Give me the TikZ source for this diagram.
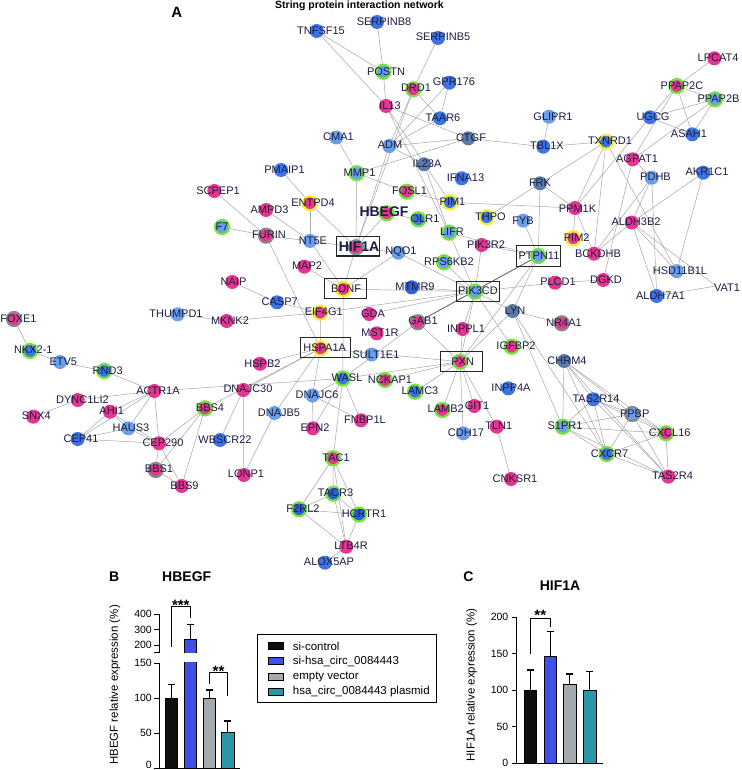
\documentclass[tikz,border=0pt]{standalone}
\usepackage{fontspec}
\setmainfont{Liberation Sans}
\definecolor{pinkc}{HTML}{E6358F}
\definecolor{bluec}{HTML}{3D73E5}
\definecolor{lblue}{HTML}{6A9EEA}
\definecolor{dblue}{HTML}{2E5FD6}
\definecolor{bgray}{HTML}{5B7BA6}
\definecolor{ringg}{HTML}{74E33A}
\definecolor{ringy}{HTML}{F3EE2C}
\definecolor{ringgr}{HTML}{888888}
\definecolor{txc}{HTML}{1C1E40}
\definecolor{edgec}{HTML}{A6A6A6}
\definecolor{barblack}{HTML}{0F0F0F}
\definecolor{barblue}{HTML}{3F50E6}
\definecolor{bargray}{HTML}{A3AAAD}
\definecolor{barteal}{HTML}{2A97A8}
\begin{document}
\def\nodelist{%
TNFSF15/316.7/31/bluec/none/321/31/TNFSF15,
SERPINB8/377/22/bluec/none/384/22/SERPINB8,
SERPINB5/438/38/bluec/none/443/37/SERPINB5,
POSTN/383.3/71.7/lblue/ringg/386/71.7/POSTN,
DRD1/413.3/89.3/pinkc/ringg/416/88/DRD1,
GPR176/449.3/82.7/bluec/none/454/82/GPR176,
IL13/386/106/pinkc/none/390/106/IL13,
TAAR6/440/118.3/bluec/none/443/118/TAAR6,
GLIPR1/549/116.7/lblue/none/553/117/GLIPR1,
CTGF/468.3/138.3/bgray/none/471/138/CTGF,
TBL1X/543.3/146.7/bluec/none/547/146/TBL1X,
TXNRD1/606/141.7/bluec/ringy/610/141/TXNRD1,
ADM/389.3/146/lblue/none/390/145/ADM,
CMA1/336.3/137.5/lblue/none/338.5/137/CMA1,
IL23A/424/164.3/bgray/none/427/164/IL23A,
AGPAT1/632.7/159.3/pinkc/none/637/159/AGPAT1,
PPAP2C/676.7/86/pinkc/ringg/682/86/PPAP2C,
LPCAT4/714.3/58.3/pinkc/none/718/58/LPCAT4,
PPAP2B/715/99.3/lblue/ringg/718.5/99/PPAP2B,
UGCG/650/117.3/bluec/none/653/117/UGCG,
ASAH1/692.3/134.3/bluec/none/689/134/ASAH1,
PDHB/651.7/177.7/lblue/none/655.5/177/PDHB,
AKR1C1/703.3/172.7/bluec/none/707/172/AKR1C1,
FRK/540/183.3/bgray/none/540/183/FRK,
IFNA13/461.7/178.3/bluec/none/465.5/178/IFNA13,
FOSL1/406.7/191.7/pinkc/ringg/409.5/191/FOSL1,
PIM1/450/202.3/bluec/ringy/452.5/202/PIM1,
MMP1/356.7/173.3/lblue/ringg/359.5/173/MMP1,
PMAIP1/281/170/bluec/none/284.5/170/PMAIP1,
SCPEP1/214.3/191/pinkc/none/218/191/SCPEP1,
ENTPD4/310/203.3/pinkc/ringy/313/203/ENTPD4,
AMPD3/266/210/pinkc/none/269.5/210/AMPD3,
F7/222/227/lblue/ringg/222/227/F7,
FURIN/266/235.7/pinkc/ringgr/269/235/FURIN,
NT5E/310/241/lblue/none/313/241/NT5E,
OLR1/418.3/219.3/bluec/ringg/425/219/OLR1,
THPO/486.7/217.3/bluec/ringy/490.5/217/THPO,
FYB/523.3/220.7/lblue/none/523/221/FYB,
PPM1K/575/208/pinkc/none/577.5/209/PPM1K,
ALDH3B2/631.7/222.5/pinkc/none/636/222/ALDH3B2,
LIFR/449/232.7/lblue/ringg/452/232/LIFR,
PIM2/573.3/238.3/pinkc/ringy/576.7/238/PIM2,
PIK3R2/481.7/245/pinkc/none/486/245/PIK3R2,
NQO1/398.3/252.7/lblue/none/401/252/NQO1,
MAP2/304.3/266.7/pinkc/none/307/266/MAP2,
RPS6KB2/444/262.3/lblue/ringg/449/262/RPS6KB2,
PTPN11/538.3/256/lblue/ringg/539/256/PTPN11,
BCKDHB/594/253.7/pinkc/none/598/254/BCKDHB,
HSD11B1L/676.7/271.2/lblue/none/680/271/HSD11B1L,
ALDH7A1/656.7/296/bluec/none/660.5/296/ALDH7A1,
DGKD/603.3/280/pinkc/none/606/280/DGKD,
PLCD1/555/282.7/pinkc/none/558/282/PLCD1,
MTMR9/411.7/287.3/dblue/none/415/287/MTMR9,
PIK3CD/475/291.7/lblue/ringg/478/291/PIK3CD,
BDNF/343.3/289/pinkc/ringy/346/289/BDNF,
NAIP/232.3/282/pinkc/none/233.5/282/NAIP,
CASP7/277/302.3/bluec/none/279.7/302/CASP7,
THUMPD1/177.7/314.3/lblue/none/176/314/THUMPD1,
MKNK2/226.7/321/pinkc/none/230/321/MKNK2,
EIF4G1/320.3/312.7/pinkc/ringy/323.8/312/EIF4G1,
GDA/369.2/314/pinkc/none/373/314/GDA,
LYN/512.7/311/bgray/none/515/311/LYN,
NR4A1/561.7/323.3/pinkc/ringgr/564/323/NR4A1,
GAB1/417.7/322.2/pinkc/ringgr/423/321/GAB1,
MST1R/376.7/333.3/pinkc/none/380/333/MST1R,
INPPL1/462.7/329/pinkc/none/466/329/INPPL1,
FOXE1/14/319/pinkc/ringgr/18.5/319/FOXE1,
NKX21/30/351/bluec/ringg/33.3/350/NKX2-1,
ETV5/60/362/lblue/none/63.3/362/ETV5,
HSPA1A/320.5/348.3/pinkc/ringy/324.7/348/HSPA1A,
SULT1E1/371.7/354.5/lblue/none/376/355/SULT1E1,
PXN/460/361.7/pinkc/ringg/462.7/362/PXN,
IGFBP2/511.7/346.7/pinkc/ringg/516/346/IGFBP2,
CHRM4/564/361/bgray/none/567/361/CHRM4,
HSPB2/260/363.8/pinkc/none/262.5/364/HSPB2,
RND3/104.3/371/bluec/ringg/107.7/371/RND3,
WASL/342.8/378.5/bluec/ringg/347/378/WASL,
NCKAP1/385/380/pinkc/ringg/390/380/NCKAP1,
INPP4A/508.3/388.3/bluec/none/511/388/INPP4A,
ACTR1A/154.3/391/pinkc/none/158/391/ACTR1A,
DNAJC30/243.3/390/pinkc/none/248/389/DNAJC30,
DNAJC6/312.5/395.5/lblue/none/317/395/DNAJC6,
LAMC3/415/391.7/bluec/ringg/420/391/LAMC3,
DYNC1LI2/77.7/400/pinkc/none/82.5/400/DYNC1LI2,
AHI1/110/411.7/pinkc/none/111.7/411/AHI1,
BBS4/205/408.3/pinkc/ringg/210/408/BBS4,
DNAJB5/274.7/413/lblue/none/279/413/DNAJB5,
LAMB2/442.3/410/pinkc/ringg/445.7/409/LAMB2,
GIT1/474.3/406/pinkc/none/477/406/GIT1,
TAS2R14/593.3/399.3/bluec/none/596/399/TAS2R14,
PPBP/632.3/414/lblue/ringgr/634.7/414/PPBP,
SNX4/33.3/416.7/pinkc/none/36.3/416/SNX4,
HAUS3/128.3/428.3/lblue/none/131/428/HAUS3,
CEP41/77.7/439/bluec/none/81/439/CEP41,
CEP290/159/443.3/pinkc/none/163/443/CEP290,
WBSCR22/220/440/bluec/none/225/440/WBSCR22,
EPN2/313/428.3/pinkc/none/315/428/EPN2,
FNBP1L/361/420.3/pinkc/none/365/420/FNBP1L,
CDH17/463.3/433.3/lblue/none/466/433/CDH17,
TLN1/496.7/426.7/pinkc/none/498.7/426/TLN1,
S1PR1/562.7/426.7/lblue/ringg/565/426/S1PR1,
CXCL16/666/433.3/pinkc/ringg/669.7/433/CXCL16,
CXCR7/606.7/454/bluec/ringg/609.5/454/CXCR7,
BBS1/155.7/470/pinkc/ringgr/159/469/BBS1,
BBS9/181.7/486/pinkc/none/184.5/486/BBS9,
LONP1/243.8/475/pinkc/none/246/474/LONP1,
TAC1/333/458.3/pinkc/ringg/336/458/TAC1,
CNKSR1/511/479/pinkc/none/515/479/CNKSR1,
TAS2R4/668.3/476.7/pinkc/none/672.5/476/TAS2R4,
TACR3/333.3/493.7/dblue/ringg/335.5/493/TACR3,
F2RL2/299/509.3/dblue/ringg/303/509/F2RL2,
HCRTR1/359/514.5/dblue/ringg/364/514/HCRTR1,
LTB4R/346.2/546.7/pinkc/none/351/546/LTB4R,
ALOX5AP/325/562.7/bluec/none/329/562/ALOX5AP,
HBEGF/386.7/213.3/pinkc/ringg/384/212/{},
HIF1A/356/247.3/pinkc/ringgr/359/247/{}%
}
\begin{tikzpicture}[x=1pt,y=-1pt,
  edge/.style={draw=edgec, line width=0.5pt},
  thk/.style={draw=black!60, line width=0.9pt},
  dot/.style={circle, inner sep=0pt, minimum size=14pt, line width=2.2pt},
  lbl/.style={inner sep=0pt, text=txc, font=\fontsize{11}{12}\selectfont},
  blbl/.style={inner sep=0pt, text=txc, font=\bfseries\fontsize{14}{15}\selectfont},
  gbox/.style={draw=black!85, line width=0.9pt},
  tick/.style={inner sep=0pt, anchor=east, font=\fontsize{10.5}{11}\selectfont},
  axl/.style={line width=1pt, draw=black},
  bar/.style={draw=black, line width=0.9pt},
  errb/.style={draw=black, line width=1.1pt},
  ptitle/.style={inner sep=0pt, font=\bfseries\fontsize{14}{15}\selectfont},
  leg/.style={inner sep=0pt, anchor=west, font=\fontsize{11.5}{12}\selectfont},
  sw/.style={draw=black, line width=0.8pt},
  star/.style={inner sep=0pt, anchor=base, font=\bfseries\fontsize{15}{16}\selectfont}
 ]
\useasboundingbox[fill=white] (0,0) rectangle (741,770);
% ---- node positions
\foreach \n/\x/\y/\f/\r/\lx/\ly/\t in \nodelist {\coordinate (\n) at (\x,\y);}
\coordinate (VAT1) at (716,286);
% ---- edges
\foreach \a/\b in {TNFSF15/IL13, TNFSF15/POSTN, SERPINB8/POSTN, SERPINB5/DRD1, POSTN/IL13,
  IL13/CTGF, IL13/LIFR, IL13/PIM1, DRD1/TAAR6, DRD1/ADM, DRD1/HIF1A, GPR176/TAAR6, GPR176/ADM,
  TAAR6/ADM, ADM/CTGF, ADM/HIF1A, CTGF/TBL1X, TBL1X/GLIPR1, TBL1X/TXNRD1, MMP1/CTGF,
  CMA1/MMP1, MMP1/FOSL1, MMP1/HIF1A, FOSL1/PIM1, IL23A/ADM, IL23A/LIFR, PIM1/PPM1K,
  THPO/TXNRD1, FRK/PPM1K, FRK/PTPN11,
  PMAIP1/ENTPD4, SCPEP1/FURIN, AMPD3/NT5E, ENTPD4/NT5E, ENTPD4/HIF1A, F7/FURIN, FURIN/NT5E,
  NT5E/HIF1A, FURIN/HSPA1A, HBEGF/HIF1A, NT5E/BDNF, MAP2/BDNF, HIF1A/BDNF, HIF1A/NQO1,
  NQO1/BDNF, BDNF/PIK3CD, NQO1/PIK3CD, NAIP/CASP7, CASP7/EIF4G1, MKNK2/EIF4G1,
  THUMPD1/MKNK2, EIF4G1/HSPA1A, EIF4G1/PIK3CD, BDNF/WASL,
  HSPA1A/HSPB2, HSPA1A/DNAJC30, HSPA1A/DNAJB5, HSPA1A/DNAJC6, HSPA1A/BBS4, HSPA1A/PXN,
  ACTR1A/WASL, WASL/PXN, NCKAP1/PXN, WASL/DNAJC6, WASL/FNBP1L, WASL/EPN2, DNAJC6/EPN2,
  DNAJC6/FNBP1L, WASL/TAC1, GAB1/WASL, GAB1/PXN,
  PIK3CD/PIK3R2, PIK3CD/RPS6KB2, PIK3CD/LIFR, PIK3CD/MTMR9, PIK3CD/PXN, PIK3CD/INPPL1,
  PIK3CD/IGFBP2, PIK3CD/LYN, PIK3CD/PLCD1, PIK3CD/GDA,
  PTPN11/FYB, PTPN11/PIK3R2, PTPN11/LYN, PTPN11/PXN, LIFR/PTPN11, OLR1/HBEGF,
  LYN/PXN, LYN/NR4A1, LYN/S1PR1, LYN/CXCR7,
  PXN/LAMB2, PXN/LAMC3, PXN/CDH17, PXN/GIT1, PXN/TLN1, PXN/INPPL1, TLN1/CNKSR1,
  CHRM4/S1PR1, CHRM4/TAS2R14, CHRM4/PPBP, CHRM4/CXCL16, CHRM4/CXCR7, CHRM4/TAS2R4,
  S1PR1/TAS2R14, S1PR1/PPBP, S1PR1/CXCL16, S1PR1/CXCR7, S1PR1/TAS2R4,
  TAS2R14/PPBP, TAS2R14/CXCL16, TAS2R14/CXCR7, TAS2R14/TAS2R4,
  PPBP/CXCL16, PPBP/CXCR7, PPBP/TAS2R4, CXCL16/CXCR7, CXCL16/TAS2R4, CXCR7/TAS2R4,
  TAC1/TACR3, TAC1/F2RL2, TAC1/HCRTR1, TAC1/LTB4R, TACR3/F2RL2, TACR3/HCRTR1, TACR3/LTB4R,
  F2RL2/HCRTR1, F2RL2/LTB4R, HCRTR1/LTB4R, LTB4R/ALOX5AP,
  FOXE1/NKX21, NKX21/ETV5, ETV5/RND3, RND3/ACTR1A, ACTR1A/DYNC1LI2, ACTR1A/AHI1,
  ACTR1A/HAUS3, ACTR1A/CEP41, ACTR1A/CEP290, DYNC1LI2/SNX4, AHI1/CEP41, AHI1/HAUS3,
  AHI1/CEP290, HAUS3/CEP41, HAUS3/CEP290, CEP41/CEP290, CEP290/BBS4, CEP290/BBS1,
  CEP290/BBS9, BBS4/BBS1, BBS4/BBS9, BBS1/BBS9, DNAJC30/WBSCR22, DNAJC30/LONP1, DNAJB5/LONP1,
  LPCAT4/PPAP2C, PPAP2C/PPAP2B, PPAP2C/UGCG, PPAP2C/ASAH1, PPAP2C/AGPAT1, PPAP2B/UGCG,
  PPAP2B/ASAH1, PPAP2B/AGPAT1, UGCG/ASAH1, UGCG/PPM1K, TXNRD1/PPM1K, TXNRD1/BCKDHB,
  TXNRD1/HSD11B1L, AGPAT1/PDHB, AGPAT1/DGKD, PPM1K/PIM2, PPM1K/BCKDHB, ALDH3B2/BCKDHB,
  ALDH3B2/PDHB, ALDH3B2/AKR1C1, ALDH3B2/HSD11B1L, ALDH3B2/ALDH7A1, ALDH3B2/VAT1,
  PDHB/BCKDHB, PDHB/ALDH7A1, AKR1C1/HSD11B1L, ALDH7A1/VAT1, DGKD/PLCD1}
  {\draw[edge] (\a) -- (\b);}
\draw[thk] (PTPN11) -- (GAB1);
% ---- circles
\foreach \n/\x/\y/\f/\r/\lx/\ly/\t in \nodelist {\node[dot, fill=\f, draw=\r] (\n-c) at (\n) {};}
% ---- boxes
\draw[gbox] (516.7,245.7) rectangle (560.7,266);
\draw[gbox] (456,281.7) rectangle (499,301);
\draw[gbox] (324,278.3) rectangle (366.7,298.3);
\draw[gbox] (300,337.7) rectangle (350,357.3);
\draw[gbox] (440,351.7) rectangle (482.7,371.7);
\draw[gbox, line width=1.2pt] (336.7,236.7) rectangle (379.3,256);
% ---- labels
\foreach \n/\x/\y/\f/\r/\lx/\ly/\t in \nodelist {\node[lbl] (\n-l) at (\lx,\ly) {\t};}
\node[lbl] (VAT1-l) at (727,287.7) {VAT1};
\node[blbl] (HBEGF-b) at (384,212) {HBEGF};
\node[blbl] (HIF1A-b) at (359,247) {HIF1A};
% ---- titles
\node[ptitle, font=\bfseries\fontsize{15}{16}\selectfont] (pA) at (176.7,12.3) {A};
\node[inner sep=0pt, anchor=west, font=\bfseries\fontsize{10.5}{11}\selectfont] (ttl) at (275,6) {String protein interaction network};
% ================= panel B
\node[ptitle] (pB) at (114.3,576.7) {B};
\node[ptitle] (tB) at (186.7,576.7) {HBEGF};
\node[rotate=90, inner sep=0pt, font=\fontsize{11.5}{12}\selectfont] (yB) at (115,685) {HBEGF relative expression (\%)};
\fill[barblack] (165.7,768.3) rectangle (177.3,698.3);
\draw[bar] (165.7,768.3) rectangle (177.3,698.3);
\fill[barblue] (184.3,768.3) rectangle (196,662);
\draw[bar] (184.3,768.3) -- (184.3,662) (196,662) -- (196,768.3);
\fill[barblue] (184.3,653.3) rectangle (196,639);
\draw[bar] (184.3,653.3) -- (184.3,639) -- (196,639) -- (196,653.3);
\fill[bargray] (203.3,768.3) rectangle (215,698.3);
\draw[bar] (203.3,768.3) rectangle (215,698.3);
\fill[barteal] (221.7,768.3) rectangle (234,732.7);
\draw[bar] (221.7,768.3) rectangle (234,732.7);
\draw[errb] (171.5,698.3) -- (171.5,684.3) (168,684.3) -- (175,684.3);
\draw[errb] (190.2,639) -- (190.2,624.3) (186.7,624.3) -- (193.7,624.3);
\draw[errb] (209.2,698.3) -- (209.2,690) (205.7,690) -- (212.7,690);
\draw[errb] (227.9,732.7) -- (227.9,721) (224.4,721) -- (231.4,721);
\draw[axl] (159.3,663.3) -- (159.3,768.3) -- (240,768.3);
\draw[axl] (159.3,614) -- (159.3,652.7);
\foreach \yy in {663.3,698.3,733.3,768.3,614,629.5,645,652.7} {\draw[axl] (154.3,\yy) -- (159.3,\yy);}
\foreach \yy/\tt in {614/400,629.5/300,645/200,663.3/150,698.3/100,733.3/50,764.5/0}
  {\node[tick] (tb\tt) at (152,\yy) {\tt};}
\draw[line width=0.9pt] (171.5,647.3) -- (171.5,606.7) -- (190.2,606.7) -- (190.2,618);
\node[star] (sB1) at (180.8,610) {***};
\draw[line width=0.9pt] (209.2,684.3) -- (209.2,672.7) -- (227.9,672.7) -- (227.9,696);
\node[star] (sB2) at (218.5,676) {**};
% legend
\draw[line width=0.7pt] (257.7,634) rectangle (436,702.7);
\foreach \yy/\cc/\tt in {646/barblack/si-control, 661.3/barblue/si-hsa\_circ\_0084443,
   676.7/bargray/empty vector, 691.7/barteal/hsa\_circ\_0084443 plasmid}
  {\draw[sw, fill=\cc] (268.3,\yy-3.5) rectangle (283.3,\yy+3.5);
   \node[leg] at (292.7,\yy) {\tt};}
% ================= panel C
\node[ptitle] (pC) at (468.3,576.7) {C};
\node[ptitle] (tC) at (560,585.7) {HIF1A};
\node[rotate=90, inner sep=0pt, font=\fontsize{11.5}{12}\selectfont] (yC) at (471.7,685) {HIF1A relative expression (\%)};
\fill[barblack] (524,763.3) rectangle (536.7,690.3);
\draw[bar] (524,763.3) rectangle (536.7,690.3);
\fill[barblue] (544,763.3) rectangle (556.7,656.7);
\draw[bar] (544,763.3) rectangle (556.7,656.7);
\fill[bargray] (563.3,763.3) rectangle (576,684);
\draw[bar] (563.3,763.3) rectangle (576,684);
\fill[barteal] (583.3,763.3) rectangle (596,690.3);
\draw[bar] (583.3,763.3) rectangle (596,690.3);
\draw[errb] (530.3,690.3) -- (530.3,670) (526.8,670) -- (533.8,670);
\draw[errb] (550.3,656.7) -- (550.3,631.7) (546.8,631.7) -- (553.8,631.7);
\draw[errb] (569.7,684) -- (569.7,674) (566.2,674) -- (573.2,674);
\draw[errb] (589.7,690.3) -- (589.7,671.7) (586.2,671.7) -- (593.2,671.7);
\draw[axl] (516.7,617.3) -- (516.7,763.3) -- (603.3,763.3);
\foreach \yy/\tt in {617.3/200,653.8/150,690.3/100,726.8/50,763.3/0}
  {\draw[axl] (512.3,\yy) -- (516.7,\yy); \node[tick] (tc\tt) at (508.5,\yy) {\tt};}
\draw[line width=0.9pt] (530.3,654) -- (530.3,618.3) -- (550.3,618.3) -- (550.3,626.7);
\node[star] (sC) at (540.3,620.5) {**};
\end{tikzpicture}
\end{document}
